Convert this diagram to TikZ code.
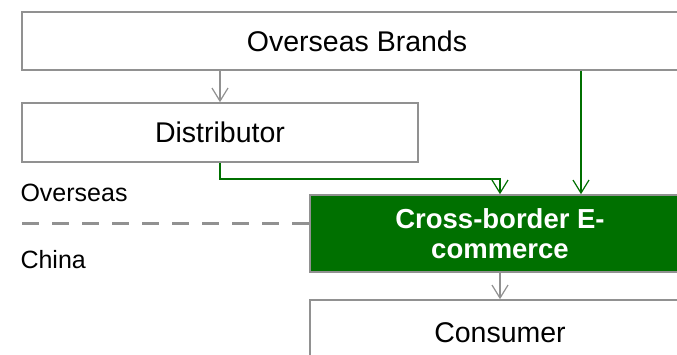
\documentclass[tikz,border=0pt]{standalone}
\usepackage{fontspec}
\setmainfont{Liberation Sans}
\usepackage{tikz}
\usetikzlibrary{arrows.meta}
\definecolor{cbgreen}{RGB}{0,112,0}
\definecolor{boxgray}{RGB}{145,145,145}

\begin{document}
\begin{tikzpicture}[x=1pt, y=-1pt,
    box/.style={draw=boxgray, line width=1.6pt, fill=white, font=\fontsize{28.5}{32}\selectfont},
    hub/.style={box, fill=cbgreen, text=white, align=center, font=\fontsize{27.5}{30}\selectfont\bfseries},
    link/.style={draw=boxgray, line width=1.2pt, -{Straight Barb[length=13pt, width=16pt, line width=1.2pt]}},
    flow/.style={link, draw=cbgreen, line width=1.8pt},
    side/.style={anchor=west, font=\fontsize{25}{30}\selectfont}]
    \clip (0,0) rectangle (677,355);
    \node[box, minimum width=670pt, minimum height=58pt] (brands) at (357,41) {Overseas Brands};
    \node[box, minimum width=396pt, minimum height=59pt] (distributor) at (220,132.5) {Distributor};
    \node[hub, minimum width=380pt, minimum height=77pt] (cbec) at (500,233.5) {Cross-border E-\\commerce};
    \node[box, minimum width=380pt, minimum height=66pt] (consumer) at (500,333) {Consumer};
    \node[side] (overseas) at (17,193) {Overseas};
    \node[side] (china) at (17,260) {China};
    \coordinate (border) at (22,223.5);
    \coordinate (bend) at (500,179);
    \draw[boxgray, line width=2.6pt, dash pattern=on 17pt off 13pt] (border) -- (border -| cbec.west);
    \draw[link] (distributor.north |- brands.south) -- (distributor.north);
    \draw[flow] (distributor.south) |- (bend) -- (cbec.north);
    \draw[flow] ([xshift=224pt]brands.south) -- ([xshift=224pt]brands.south |- cbec.north);
    \draw[link] (cbec.south) -- (consumer.north);
\end{tikzpicture}
\end{document}
